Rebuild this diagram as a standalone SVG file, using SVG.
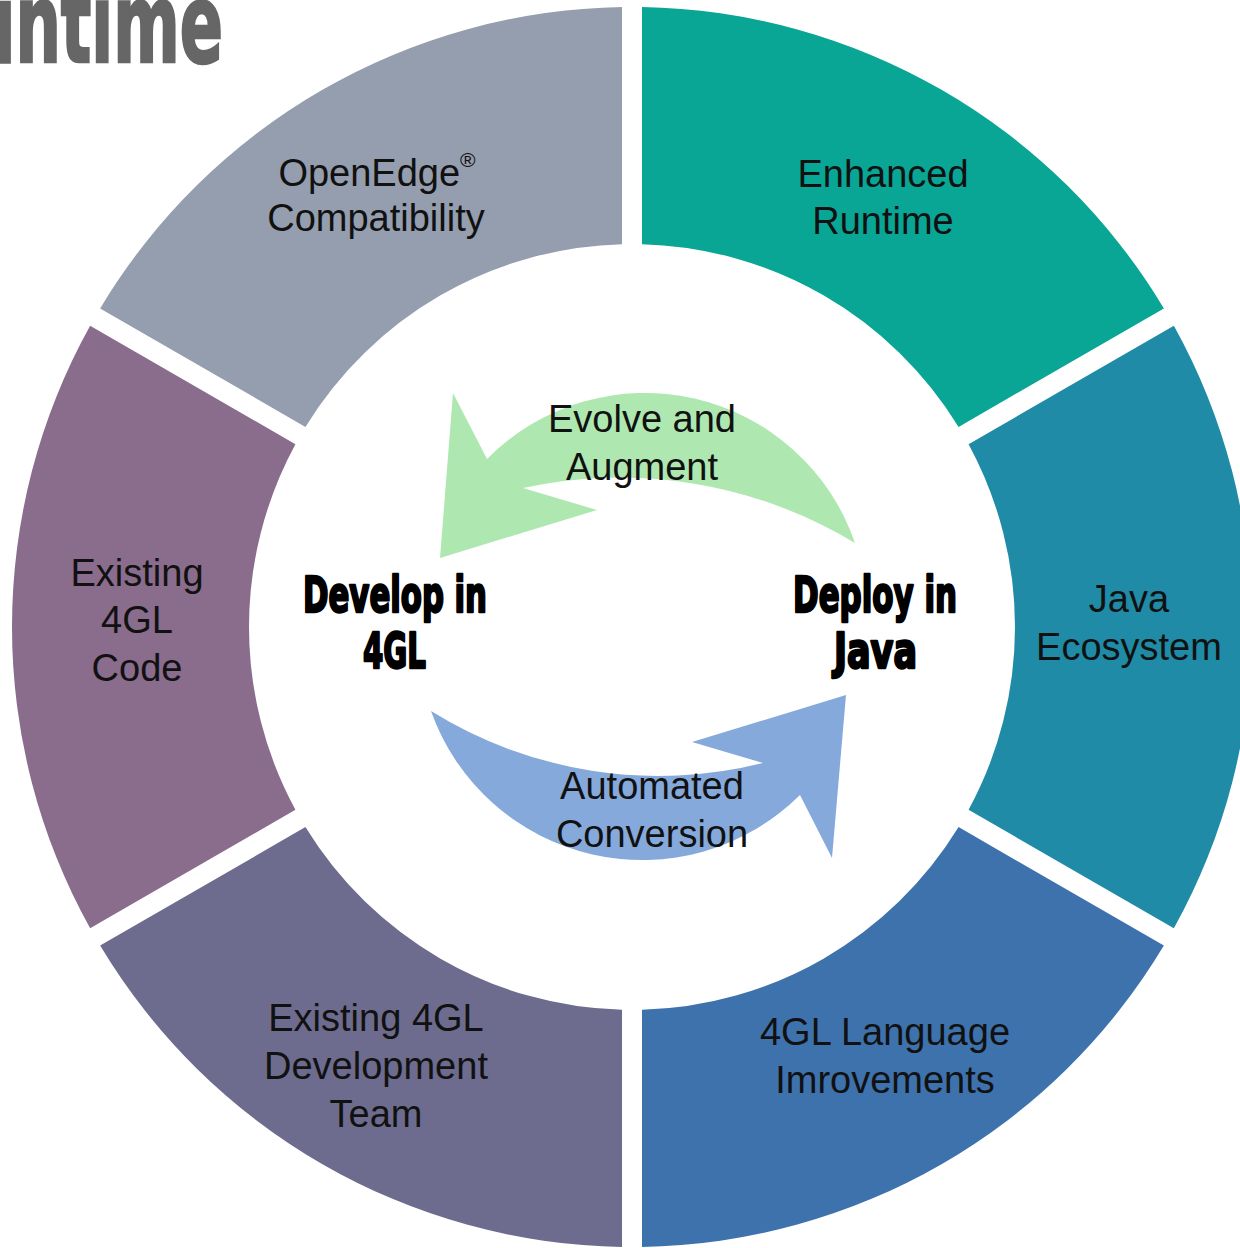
<svg xmlns="http://www.w3.org/2000/svg" width="1240" height="1248" viewBox="0 0 1240 1248">
<style>
.lbl{font-family:"Liberation Sans",Arial,sans-serif;font-size:38px;fill:#111;text-anchor:middle}
.big{font-family:"Liberation Sans Narrow","DejaVu Sans Condensed","Liberation Sans",sans-serif;font-weight:bold;font-size:50px;fill:#000;stroke:#000;stroke-width:2.4;stroke-linejoin:round;text-anchor:start}
</style>
<rect width="1240" height="1248" fill="#ffffff"/>
<text x="-30" y="62" textLength="253" lengthAdjust="spacingAndGlyphs" style="font-family:'Liberation Sans Narrow','DejaVu Sans Condensed','Liberation Sans',sans-serif;font-weight:bold;font-size:110px;fill:#666666;stroke:#666666;stroke-width:2.5">untime</text>

<g id="node-openedge">
<path d="M 622 7.08 A 620 620 0 0 0 100.13 308.38 L 305.43 426.91 A 383 383 0 0 1 622 244.13 Z" fill="#949eae"/>
<text class="lbl" x="377" y="186">OpenEdge<tspan font-size="21" dy="-19">®</tspan></text>
<text class="lbl" x="376" y="231">Compatibility</text>
</g>
<g id="node-enhanced-runtime">
<path d="M 1163.87 308.38 A 620 620 0 0 0 642 7.08 L 642 244.13 A 383 383 0 0 1 958.57 426.91 Z" fill="#09a595"/>
<text class="lbl" x="883" y="187">Enhanced</text>
<text class="lbl" x="883" y="234">Runtime</text>
</g>
<g id="node-java-ecosystem">
<path d="M 1173.86 928.30 A 620 620 0 0 0 1173.86 325.70 L 968.57 444.22 A 383 383 0 0 1 968.57 809.78 Z" fill="#208ba6"/>
<text class="lbl" x="1129" y="612">Java</text>
<text class="lbl" x="1129" y="660">Ecosystem</text>
</g>
<g id="node-4gl-language">
<path d="M 642 1246.92 A 620 620 0 0 0 1163.87 945.62 L 958.57 827.09 A 383 383 0 0 1 642 1009.87 Z" fill="#3e72ad"/>
<text class="lbl" x="885" y="1045">4GL Language</text>
<text class="lbl" x="885" y="1093">Imrovements</text>
</g>
<g id="node-dev-team">
<path d="M 100.13 945.62 A 620 620 0 0 0 622 1246.92 L 622 1009.87 A 383 383 0 0 1 305.43 827.09 Z" fill="#6d6c8e"/>
<text class="lbl" x="376" y="1031">Existing 4GL</text>
<text class="lbl" x="376" y="1079">Development</text>
<text class="lbl" x="376" y="1127">Team</text>
</g>
<g id="node-existing-code">
<path d="M 90.14 325.70 A 620 620 0 0 0 90.14 928.30 L 295.43 809.78 A 383 383 0 0 1 295.43 444.22 Z" fill="#8a6c8d"/>
<text class="lbl" x="137" y="586">Existing</text>
<text class="lbl" x="137" y="633">4GL</text>
<text class="lbl" x="137" y="681">Code</text>
</g>
<g id="node-develop">
<text class="big" x="303" y="612" textLength="184" lengthAdjust="spacingAndGlyphs">Develop in</text>
<text class="big" x="363" y="668" textLength="63" lengthAdjust="spacingAndGlyphs">4GL</text>
</g>
<g id="node-deploy">
<text class="big" x="793" y="612" textLength="164" lengthAdjust="spacingAndGlyphs">Deploy in</text>
<text class="big" x="834" y="668" textLength="83" lengthAdjust="spacingAndGlyphs">Java</text>
</g>

<g id="connectors">
<g id="edge-evolve">
<path d="M 855 543 A 222 222 0 0 0 487 459 L 453 393 L 440 558 L 597 510 L 523 488 A 455 455 0 0 1 855 543 Z" fill="#aee8b0"/>
<text class="lbl" x="642" y="432">Evolve and</text>
<text class="lbl" x="642" y="480">Augment</text>
</g>
<g id="edge-conversion">
<path d="M 431 711 A 224 224 0 0 0 800 795 L 832 858 L 846 695 L 692 742 L 763 763 A 431 431 0 0 1 431 711 Z" fill="#86a9dc"/>
<text class="lbl" x="652" y="799">Automated</text>
<text class="lbl" x="652" y="847">Conversion</text>
</g>
</g>
</svg>
